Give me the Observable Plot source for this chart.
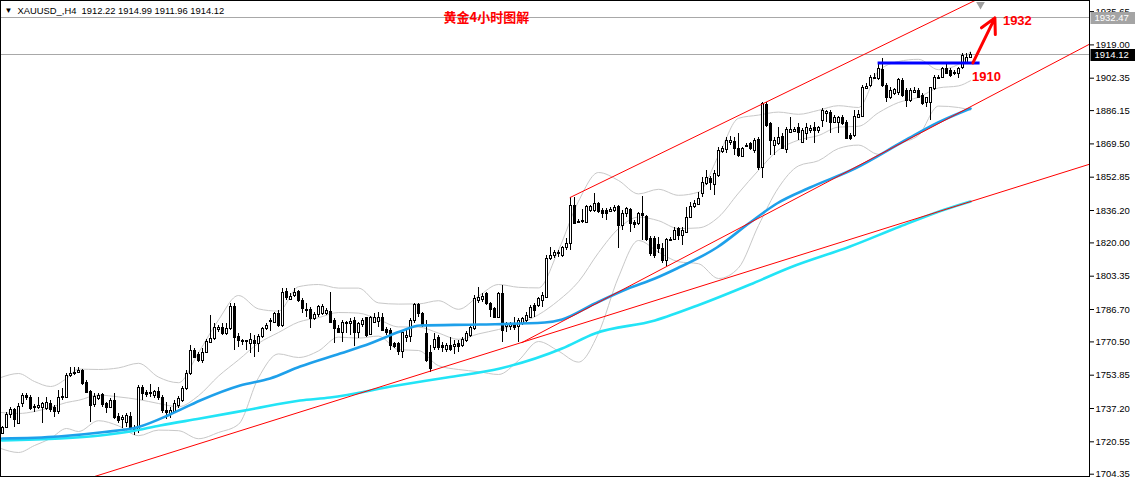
<!DOCTYPE html>
<html><head><meta charset="utf-8">
<script src="https://cdn.jsdelivr.net/npm/d3@7"></script>
<script src="https://cdn.jsdelivr.net/npm/@observablehq/plot@0.6"></script>
<style>body{margin:0;background:#fff}</style>
</head><body><div id="chart"></div>
<script>
// ---- candle data (XAUUSD H4), bar index = position in arrays ----
const open = [
1724.7,1727.7,1734.2,1736.7,1729.7,1739.7,1743.7,1742.7,1738.2,1737.7,
1737.7,1737.2,1739.7,1737.7,1735.7,1742.7,1742.7,1753.7,1754.7,1755.2,
1756.2,1750.2,1745.7,1739.2,1742.2,1744.2,1739.7,1737.7,1741.2,1733.2,
1731.7,1730.2,1733.2,1727.7,1726.2,1747.7,1745.2,1744.7,1743.7,1745.7,
1742.7,1736.2,1734.7,1735.7,1738.7,1741.2,1747.2,1754.7,1766.2,1764.2,
1761.2,1765.2,1770.2,1772.2,1776.7,1777.7,1774.7,1777.2,1788.2,1773.2,
1771.2,1770.7,1769.7,1771.2,1769.7,1773.2,1777.2,1780.7,1780.2,1784.7,
1778.7,1795.7,1791.7,1793.7,1795.7,1791.2,1786.7,1786.7,1782.2,1784.2,
1784.7,1784.7,1785.7,1781.2,1777.2,1775.2,1779.7,1779.7,1781.2,1775.2,
1779.2,1782.7,1774.2,1780.2,1780.7,1782.7,1776.7,1776.2,1769.7,1769.7,
1765.7,1772.7,1773.2,1781.2,1789.2,1784.7,1774.7,1765.2,1767.7,1772.7,
1768.7,1766.7,1768.7,1768.2,1769.7,1768.7,1771.2,1773.7,1777.2,1791.2,
1791.7,1794.7,1789.7,1787.2,1782.7,1794.7,1778.2,1778.2,1779.7,1778.2,
1779.7,1781.2,1782.7,1788.7,1788.7,1791.2,1792.7,1812.2,1813.7,1814.7,
1813.7,1817.7,1819.7,1838.7,1830.7,1830.7,1830.2,1836.2,1836.2,1839.7,
1836.2,1836.2,1835.7,1836.2,1838.2,1828.7,1834.7,1836.7,1830.2,1829.7,
1834.7,1833.2,1822.2,1822.2,1819.2,1817.2,1811.2,1821.2,1821.7,1827.2,
1823.7,1825.2,1832.7,1838.2,1839.2,1844.7,1849.7,1852.2,1849.2,1853.7,
1865.7,1866.7,1870.2,1870.7,1867.2,1863.2,1868.2,1869.7,1866.2,1871.7,
1857.7,1889.2,1879.7,1868.7,1869.7,1873.2,1866.7,1875.2,1875.7,1877.7,
1870.2,1874.7,1876.2,1877.7,1876.2,1881.2,1884.7,1885.2,1880.2,1880.2,
1882.7,1880.2,1873.7,1873.7,1882.7,1883.2,1897.2,1898.7,1902.2,1902.2,
1906.7,1898.7,1892.7,1894.7,1895.2,1901.2,1896.2,1891.2,1895.2,1896.2,
1893.7,1890.2,1890.2,1897.2,1902.2,1902.7,1907.2,1906.2,1904.7,1904.7,
1907.7,1910.2,1912.22];
const high = [
1728.2,1735.2,1737.7,1737.2,1739.7,1744.7,1744.7,1743.7,1739.2,1742.7,
1740.2,1742.7,1741.2,1738.7,1746.2,1747.2,1754.7,1757.7,1757.7,1757.7,
1756.7,1751.2,1746.2,1744.7,1744.7,1744.7,1740.2,1742.2,1744.7,1734.7,
1733.7,1734.7,1735.2,1728.7,1748.7,1748.7,1746.2,1749.2,1746.2,1747.7,
1743.7,1740.2,1737.7,1741.2,1743.2,1748.2,1756.2,1768.7,1767.2,1765.2,
1767.2,1771.7,1783.7,1779.7,1778.7,1779.7,1779.7,1789.7,1789.7,1774.7,
1771.7,1771.2,1774.7,1773.7,1774.2,1777.7,1779.7,1782.2,1785.2,1786.2,
1797.2,1797.2,1794.7,1797.2,1796.2,1792.2,1789.7,1787.7,1785.2,1788.7,
1789.2,1787.2,1795.2,1782.2,1778.7,1781.2,1780.7,1782.2,1782.7,1780.2,
1782.2,1782.7,1783.2,1784.7,1785.2,1784.7,1777.7,1777.2,1770.2,1770.2,
1776.2,1776.2,1782.2,1789.7,1789.7,1785.2,1781.2,1768.7,1774.7,1773.7,
1770.2,1769.7,1772.7,1771.2,1771.2,1772.7,1775.7,1778.7,1793.7,1797.7,
1794.7,1795.2,1790.2,1787.7,1795.2,1798.7,1780.2,1780.2,1782.7,1782.2,
1782.7,1785.2,1788.7,1789.7,1792.7,1795.2,1813.7,1817.7,1816.2,1816.2,
1818.2,1822.2,1842.7,1842.7,1831.7,1836.7,1838.7,1838.7,1844.7,1840.2,
1837.2,1837.2,1837.7,1838.7,1838.7,1836.2,1837.7,1837.2,1831.2,1835.2,
1843.2,1833.7,1823.2,1823.2,1822.7,1819.7,1822.2,1822.7,1827.7,1827.7,
1827.7,1837.7,1840.2,1841.2,1845.2,1852.7,1856.2,1853.2,1856.2,1867.7,
1868.2,1872.7,1873.2,1872.7,1874.7,1867.7,1869.7,1870.2,1872.2,1872.7,
1890.2,1890.2,1880.2,1872.7,1877.7,1874.7,1877.7,1882.7,1877.7,1879.7,
1877.2,1879.7,1878.7,1880.2,1878.2,1887.2,1886.2,1886.2,1883.7,1883.2,
1883.7,1881.2,1874.7,1886.2,1886.2,1898.7,1899.7,1903.7,1904.7,1910.2,
1912.2,1899.7,1897.7,1897.2,1902.2,1902.2,1897.2,1897.2,1897.7,1897.2,
1894.7,1892.7,1897.7,1903.7,1903.7,1907.7,1910.2,1907.2,1906.2,1907.7,
1914.7,1914.7,1914.99];
const low = [
1724.2,1727.2,1732.2,1727.7,1729.2,1737.7,1741.2,1736.2,1735.2,1736.7,
1729.7,1736.2,1735.2,1732.7,1734.2,1741.2,1742.7,1752.7,1753.7,1754.7,
1748.7,1744.7,1730.2,1737.7,1741.2,1737.7,1734.7,1737.2,1731.7,1729.7,
1727.2,1727.7,1726.2,1723.7,1724.7,1741.2,1742.7,1742.7,1742.2,1741.2,
1734.7,1731.7,1732.2,1734.7,1737.2,1740.2,1746.2,1753.7,1762.2,1760.2,
1759.7,1764.7,1769.7,1771.2,1775.2,1773.7,1773.7,1776.2,1766.2,1767.7,
1768.7,1766.2,1764.7,1762.7,1765.2,1772.2,1776.2,1775.7,1779.7,1777.7,
1777.7,1791.2,1791.2,1792.7,1790.2,1784.7,1782.7,1777.2,1781.2,1782.7,
1783.7,1783.7,1779.7,1769.7,1774.7,1770.2,1774.7,1773.7,1768.2,1772.2,
1777.7,1772.7,1773.7,1779.7,1777.7,1775.7,1773.7,1766.2,1767.2,1763.7,
1762.2,1770.2,1770.2,1779.7,1782.7,1777.7,1760.2,1755.2,1766.2,1766.2,
1765.2,1765.2,1765.7,1764.2,1765.2,1767.7,1770.2,1772.7,1776.2,1789.7,
1790.2,1788.7,1782.7,1782.2,1782.2,1770.2,1775.2,1776.2,1776.2,1770.2,
1778.7,1780.2,1782.2,1782.7,1787.7,1787.7,1792.2,1811.2,1812.2,1812.7,
1812.7,1816.2,1816.2,1829.2,1829.7,1829.7,1829.7,1835.2,1835.2,1834.7,
1832.2,1831.2,1835.2,1835.2,1817.2,1826.2,1832.7,1825.2,1827.2,1828.7,
1821.2,1820.7,1813.2,1812.2,1814.7,1809.7,1808.2,1820.7,1821.2,1821.2,
1818.7,1824.7,1832.2,1837.2,1838.7,1842.7,1848.7,1846.2,1843.7,1852.7,
1864.7,1864.7,1868.7,1863.7,1862.7,1862.7,1867.7,1866.2,1864.7,1856.2,
1852.2,1877.7,1863.7,1863.7,1868.7,1866.7,1864.7,1875.2,1875.2,1871.2,
1869.7,1871.2,1874.7,1869.7,1874.7,1877.7,1880.2,1874.7,1879.7,1874.7,
1878.7,1871.7,1871.2,1872.7,1882.2,1882.7,1896.7,1897.7,1901.7,1901.2,
1897.7,1890.2,1891.7,1893.7,1893.7,1892.7,1887.7,1890.2,1894.7,1892.2,
1888.7,1887.7,1881.2,1896.2,1901.7,1902.2,1904.7,1902.7,1903.7,1902.2,
1906.7,1909.7,1911.96];
const close = [
1727.7,1734.2,1736.7,1731.7,1738.2,1743.7,1742.7,1737.2,1737.7,1738.7,
1739.7,1740.2,1736.7,1735.7,1742.7,1743.2,1753.7,1754.7,1755.2,1756.2,
1749.7,1745.2,1738.7,1743.2,1743.7,1739.2,1737.7,1741.2,1732.7,1731.2,
1732.7,1733.7,1727.7,1726.2,1747.7,1744.7,1744.2,1745.2,1745.7,1742.7,
1736.2,1735.2,1736.2,1739.7,1742.2,1747.2,1754.7,1766.2,1762.7,1761.2,
1765.2,1770.7,1772.2,1777.7,1777.7,1774.7,1777.2,1788.2,1772.7,1771.2,
1770.7,1771.2,1771.7,1769.7,1773.2,1777.2,1778.7,1781.2,1784.7,1778.7,
1795.2,1792.7,1793.2,1795.2,1791.2,1787.2,1786.2,1782.2,1784.2,1788.2,
1788.2,1786.2,1780.2,1777.2,1775.2,1780.2,1780.2,1780.7,1775.2,1779.7,
1781.2,1773.7,1782.7,1782.7,1782.7,1776.2,1775.2,1768.7,1768.2,1765.7,
1775.2,1773.7,1781.2,1789.2,1784.7,1778.7,1761.2,1757.2,1771.7,1767.7,
1767.7,1768.7,1766.7,1769.2,1768.2,1771.7,1774.7,1777.7,1792.2,1792.7,
1793.2,1789.7,1786.7,1782.7,1794.7,1776.2,1779.7,1779.2,1777.7,1781.2,
1782.2,1783.7,1787.7,1786.2,1792.2,1793.7,1812.2,1813.7,1815.2,1815.2,
1817.7,1819.7,1838.7,1829.7,1830.2,1831.2,1838.2,1838.2,1839.7,1835.7,
1834.7,1834.7,1836.7,1837.7,1828.7,1834.7,1837.2,1829.7,1829.2,1834.7,
1833.7,1821.7,1814.7,1813.7,1817.2,1811.2,1821.7,1821.7,1826.2,1823.7,
1826.2,1832.7,1838.2,1839.7,1842.2,1850.2,1852.7,1850.2,1854.7,1866.2,
1867.2,1871.2,1871.2,1867.2,1863.7,1867.2,1868.7,1867.2,1871.2,1857.7,
1889.7,1878.7,1871.2,1871.2,1872.7,1867.2,1876.7,1876.7,1876.7,1875.2,
1876.2,1877.7,1877.2,1876.2,1877.7,1886.2,1885.7,1880.2,1882.7,1882.7,
1879.7,1872.2,1872.2,1883.2,1884.2,1897.7,1898.2,1902.7,1902.7,1907.2,
1898.7,1892.7,1896.2,1896.7,1901.7,1893.7,1891.2,1896.2,1896.2,1892.7,
1889.7,1892.7,1897.7,1902.7,1902.7,1907.2,1904.7,1903.7,1905.2,1907.2,
1913.7,1912.7,1914.12];

// ---- Bollinger bands ----
const bbK = [-0.4,4,8,12,16,19,24,29,34,39,44,49,54,59,64,69,74,79,84,89,94,99,104,109,114,119,124,129,134,139,144,149,154,159,164,169,174,179,184,189,194,199,204,209,214,219,224,229,234,239,242];
const bbUpper = [1752.7,1754.7,1750.7,1748.2,1752.2,1756.9,1756.7,1757.5,1759.8,1752.9,1750.1,1765.1,1781.5,1793.7,1787.0,1785.9,1798.1,1799.2,1797.4,1797.4,1790.0,1789.4,1789.5,1791.1,1786.8,1793.4,1799.2,1797.8,1797.5,1816.4,1840.8,1855.2,1851.2,1844.5,1846.8,1843.8,1845.4,1863.6,1882.3,1883.9,1885.4,1884.3,1886.3,1888.6,1887.7,1905.9,1910.7,1911.8,1906.6,1909.3,1915.8];
const bbMiddle = [1735.2,1734.7,1735.7,1737.7,1740.2,1741.3,1743.9,1743.0,1741.7,1739.7,1738.1,1743.6,1753.4,1761.5,1769.8,1775.2,1780.4,1782.6,1785.2,1784.9,1781.7,1778.0,1777.9,1774.9,1771.8,1774.5,1776.7,1779.5,1784.1,1791.2,1800.6,1815.1,1827.1,1832.9,1831.1,1827.2,1827.5,1832.9,1844.9,1856.3,1866.5,1871.4,1873.7,1877.9,1878.3,1885.1,1890.2,1892.8,1897.5,1898.5,1901.1];
const bbLower = [1717.2,1715.2,1718.7,1722.2,1727.2,1725.7,1731.1,1728.5,1723.6,1726.4,1726.1,1722.1,1725.2,1729.3,1752.6,1764.5,1762.7,1766.0,1772.9,1772.4,1773.4,1766.6,1766.2,1758.6,1756.7,1755.6,1754.2,1761.2,1770.7,1765.9,1760.4,1774.9,1802.9,1821.2,1815.4,1810.6,1809.6,1802.2,1807.5,1828.7,1847.6,1858.5,1861.1,1867.2,1868.9,1864.3,1869.6,1873.8,1888.4,1887.7,1886.4];

// ---- moving averages ----
const blueK = [-0.1,14,24.4,34.4,41.9,49.4,59.4,66.9,74.4,84.4,91.9,99.4,104.4,119.4,135.6,139.9,148.1,156.4,163.1,168.6,178.6,186.9,193.6,201.9,213.1,225.6,233.9,242];
const blueMA = [1722.2,1723.2,1725.2,1728.2,1734.2,1741.2,1748.7,1752.2,1758.2,1764.7,1769.7,1775.7,1778.7,1779.2,1780.2,1781.7,1789.7,1797.2,1802.2,1807.2,1817.7,1830.2,1839.7,1847.7,1857.2,1871.2,1880.2,1887.2];
const cyanK = [-0.1,14.4,24.4,31.9,39.4,49.4,61.9,74.4,81.9,98.6,111.1,124.4,139.9,148.1,163.1,174.4,186.9,196.9,211.9,224.4,235.6,242];
const cyanMA = [1721.2,1722.2,1723.7,1725.7,1728.7,1732.2,1736.7,1741.2,1742.7,1748.7,1752.7,1757.2,1767.2,1774.7,1781.2,1789.2,1799.2,1807.7,1818.2,1828.2,1836.7,1840.7];

// ---- trend lines, levels, annotations ----
const trendUpper = [[141.9, 1842.7], [250.0, 1947.9]];
const trendMiddle = [[129.9, 1770.2], [271.7, 1919.3]];
const trendLower = [[20.0, 1701.3], [271.7, 1859.3]];
const priceLevels = [1932.47, 1914.12];
const supportLine = {k1: 218.9, k2: 244.4, price: 1910};
const arrowPath = {k1: 242.6, p1: 1910, k2: 248.1, p2: 1932.5};
const annotations = [{k: 250.1, p: 1931.2, text: "1932"}, {k: 242.4, p: 1903.2, text: "1910"}];
const shiftMarker = [244.5];
const yTicks = [1935.65,1919.00,1902.35,1886.15,1869.50,1852.85,1836.20,1820.00,1803.35,1786.70,1770.50,1753.85,1737.20,1720.55,1704.35];
const headerText = "XAUUSD_,H4\u00a0\u00a01912.22 1914.99 1911.96 1914.12";
const titleText = "黄金4小时图解";
const priceTags = [{v: 1932.47, bg: "#a4a4a4"}, {v: 1914.12, bg: "#000000"}];

// ---- build ----
const bars = open.map((o, i) => ({i, o, h: high[i], l: low[i], c: close[i]}));
const upBars = bars.filter(d => d.c >= d.o);
const downBars = bars.filter(d => d.c < d.o);
const pts = (ks, vs) => ks.map((k, j) => ({k, v: vs[j]}));
const seg = s => s.map(([k, v]) => ({k, v}));

const W = 1135, H = 479, MR = 46;
const chart = Plot.plot({
  width: W, height: H,
  marginLeft: 0, marginRight: MR, marginTop: 0, marginBottom: 3,
  x: {domain: [-0.5, 271.75], axis: null},
  y: {domain: [1703.2, 1941.2], axis: null},
  style: {fontFamily: "'Liberation Sans', Arial, sans-serif", background: "#fff", overflow: "visible"},
  marks: [
    Plot.ruleY(priceLevels, {stroke: "#a8a8a8", shapeRendering: "crispEdges"}),
    Plot.line(pts(bbK, bbUpper), {x: "k", y: "v", stroke: "#c8c8c8", strokeWidth: 1, curve: "monotone-x"}),
    Plot.line(pts(bbK, bbMiddle), {x: "k", y: "v", stroke: "#c8c8c8", strokeWidth: 1, curve: "monotone-x"}),
    Plot.line(pts(bbK, bbLower), {x: "k", y: "v", stroke: "#c8c8c8", strokeWidth: 1, curve: "monotone-x"}),
    Plot.ruleX(bars, {x: "i", y1: "l", y2: "h", stroke: "#000", shapeRendering: "crispEdges"}),
    Plot.rect(upBars, {x1: d => d.i - 0.25, x2: d => d.i + 0.25, y1: "o", y2: "c", fill: "#fff", stroke: "#000", shapeRendering: "crispEdges"}),
    Plot.rect(downBars, {x1: d => d.i - 0.25, x2: d => d.i + 0.25, y1: "o", y2: "c", fill: "#000", stroke: "#000", shapeRendering: "crispEdges"}),
    Plot.line(pts(cyanK, cyanMA), {x: "k", y: "v", stroke: "#22e4f6", strokeWidth: 2.6, curve: "monotone-x"}),
    Plot.line(pts(blueK, blueMA), {x: "k", y: "v", stroke: "#1ea0ea", strokeWidth: 2.6, curve: "monotone-x"}),
    Plot.line(seg(trendUpper), {x: "k", y: "v", stroke: "#ff0000", strokeWidth: 1, clip: true}),
    Plot.line(seg(trendMiddle), {x: "k", y: "v", stroke: "#ff0000", strokeWidth: 1, clip: true}),
    Plot.line(seg(trendLower), {x: "k", y: "v", stroke: "#ff0000", strokeWidth: 1, clip: true}),
    Plot.ruleY([supportLine], {y: "price", x1: "k1", x2: "k2", stroke: "#0000ff", strokeWidth: 3}),
    Plot.arrow([arrowPath], {x1: "k1", y1: "p1", x2: "k2", y2: "p2", stroke: "#ff0000", strokeWidth: 3, headLength: 13, headAngle: 55}),
    Plot.text(annotations, {x: "k", y: "p", text: "text", fill: "#ff0000", fontWeight: "bold", fontSize: 13, textAnchor: "start"}),
    Plot.dot(shiftMarker, {x: d => d, frameAnchor: "top", dy: 4, symbol: "triangle", rotate: 180, r: 3.2, fill: "#a0a0a0", stroke: "none"}),
    Plot.text([titleText], {frameAnchor: "top-left", dx: 443, dy: 17, lineAnchor: "middle", textAnchor: "start", fill: "#ff0000", fontWeight: "bold", fontSize: 13, fontFamily: "'Noto Sans CJK SC', sans-serif"}),
    Plot.text(["▼"], {frameAnchor: "top-left", dx: 4, dy: 10, lineAnchor: "middle", textAnchor: "start", fill: "#000", fontSize: 8}),
    Plot.text([headerText], {frameAnchor: "top-left", dx: 17, dy: 10, lineAnchor: "middle", textAnchor: "start", fill: "#000", fontSize: 9.4}),
    Plot.axisY(yTicks, {anchor: "right", tickSize: 4, tickPadding: 2, tickFormat: d => d.toFixed(2), fontSize: 9.5, stroke: "#000", fill: "#000"}),
    Plot.frame({stroke: "#000"})
  ]
});

// price tags on the right axis (positioned with the plot's own y scale)
const ys = chart.scale("y");
const svg = d3.select(chart);
const axisX = W - MR + 0.5;
priceTags.forEach(t => {
  const yy = ys.apply(t.v) + 0.5;
  const g = svg.append("g").attr("text-anchor", "start");
  g.append("rect").attr("x", axisX + 1).attr("y", Math.round(yy) - 6).attr("width", W - axisX - 1).attr("height", 12).attr("fill", t.bg);
  g.append("text").attr("x", axisX + 5).attr("y", yy).attr("dy", "0.35em").attr("fill", "#fff").attr("text-anchor", "start")
    .attr("font-size", 9.5).attr("font-family", "'Liberation Sans', Arial, sans-serif").text(t.v.toFixed(2));
});
document.getElementById("chart").appendChild(chart);
</script>
</body></html>
